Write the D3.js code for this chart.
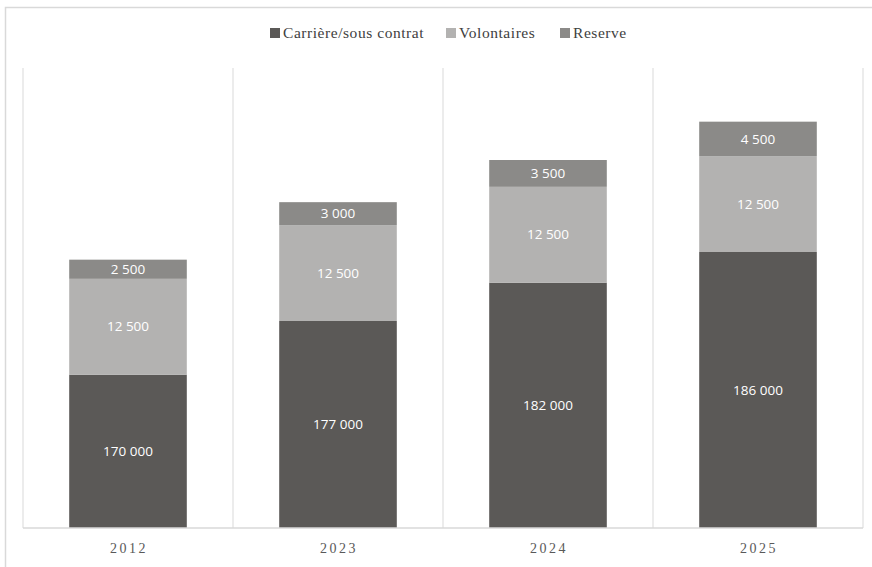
<!DOCTYPE html>
<html>
<head>
<meta charset="utf-8">
<script src="https://cdn.jsdelivr.net/npm/d3@7"></script>
<style>
  body { margin: 0; background: #fff; }
  svg { display: block; }
</style>
</head>
<body>
<script>
// data
const years = ['2012', '2023', '2024', '2025']
const carriere = [170000, 177000, 182000, 186000]
const volontaires = [12500, 12500, 12500, 12500]
const reserve = [2500, 3000, 3500, 4500]
const seriesNames = ['Carrière/sous contrat', 'Volontaires', 'Reserve']
const colors = ['#5b5957', '#b3b2b1', '#8b8a88']

const width = 872
const height = 567
const plotLeft = 23
const plotRight = 863
const plotTop = 68
const plotBottom = 528

const rows = years.map((y, i) => ({ year: y, c: carriere[i], v: volontaires[i], r: reserve[i] }))
const stack = d3.stack().keys(['c', 'v', 'r'])(rows)

const xScale = d3.scaleBand()
  .domain(years)
  .range([plotLeft, plotRight])
  .paddingInner(0)
  .paddingOuter(0)

// the value axis does not start at zero in the original
const yScale = d3.scaleLinear()
  .domain([150000, 210000])
  .range([plotBottom, plotTop])
  .clamp(true)

const barW = xScale.bandwidth() * 0.56

const svg = d3.select('body')
  .append('svg')
  .attr('width', width)
  .attr('height', height)

// outer chart border (continues past the picture on the right and bottom)
svg.append('path')
  .attr('d', `M5.5,${height} V7.5 H${width}`)
  .attr('fill', 'none')
  .attr('stroke', '#d9d9d9')
  .attr('stroke-width', 1.5)

// vertical category gridlines
svg.append('g')
  .selectAll('line')
  .data(years.concat(['end']))
  .enter()
  .append('line')
  .attr('x1', (d, i) => i < years.length ? xScale(d) : plotRight)
  .attr('x2', (d, i) => i < years.length ? xScale(d) : plotRight)
  .attr('y1', plotTop)
  .attr('y2', plotBottom)
  .attr('stroke', '#d9d9d9')
  .attr('stroke-width', 1)

const groups = svg.selectAll('g.series')
  .data(stack)
  .enter()
  .append('g')
  .attr('class', 'series')
  .attr('fill', (d, i) => colors[i])

groups.selectAll('rect')
  .data((d) => d)
  .enter()
  .append('rect')
  .attr('x', (d) => xScale(d.data.year) + (xScale.bandwidth() - barW) / 2)
  .attr('y', (d) => yScale(d[1]))
  .attr('width', barW)
  .attr('height', (d) => yScale(d[0]) - yScale(d[1]))

const fmt = (v) => d3.format(',')(v).replace(/,/g, ' ')

groups.selectAll('text')
  .data((d) => d)
  .enter()
  .append('text')
  .attr('x', (d) => xScale(d.data.year) + xScale.bandwidth() / 2)
  .attr('y', (d) => (yScale(d[0]) + yScale(d[1])) / 2)
  .attr('dy', '0.35em')
  .attr('text-anchor', 'middle')
  .attr('fill', '#ffffff')
  .attr('font-family', '"Open Sans", "Noto Sans", sans-serif')
  .attr('font-size', '13.5px')
  .text((d) => fmt(d[1] - d[0]))

// baseline
svg.append('line')
  .attr('x1', plotLeft)
  .attr('x2', plotRight)
  .attr('y1', plotBottom)
  .attr('y2', plotBottom)
  .attr('stroke', '#d9d9d9')
  .attr('stroke-width', 1.5)

// category labels
svg.append('g')
  .selectAll('text')
  .data(years)
  .enter()
  .append('text')
  .attr('x', (d) => xScale(d) + xScale.bandwidth() / 2 + 1)
  .attr('y', 553)
  .attr('text-anchor', 'middle')
  .attr('fill', '#595959')
  .attr('font-family', '"Liberation Serif", "DejaVu Serif", serif')
  .attr('font-size', '14px')
  .attr('letter-spacing', '2.5px')
  .text((d) => d)

// legend
const legendX = [270, 446, 560]
const legend = svg.append('g')
  .selectAll('g')
  .data(seriesNames)
  .enter()
  .append('g')
  .attr('transform', (d, i) => `translate(${legendX[i]},0)`)

legend.append('rect')
  .attr('x', 0)
  .attr('y', 28)
  .attr('width', 10)
  .attr('height', 10)
  .attr('fill', (d, i) => colors[i])

legend.append('text')
  .attr('x', 13)
  .attr('y', 38)
  .attr('fill', '#404040')
  .attr('font-family', '"Liberation Serif", "DejaVu Serif", serif')
  .attr('font-size', '15.5px')
  .attr('letter-spacing', '0.55px')
  .text((d) => d)
</script>
</body>
</html>
